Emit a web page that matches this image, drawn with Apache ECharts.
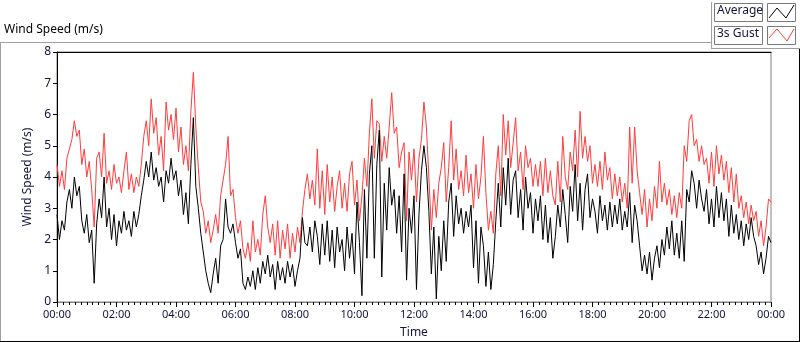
<!DOCTYPE html>
<html>
<head>
<meta charset="utf-8">
<script src="https://cdn.jsdelivr.net/npm/echarts/dist/echarts.min.js"></script>
<style>
  html, body { margin: 0; padding: 0; background: #fff; }
  #main { width: 800px; height: 342px; }
</style>
</head>
<body>
<div id="main"></div>
<script type="text/javascript">
    // 5-minute samples, 00:00 .. 24:00
    var stepMinutes = 5;

    var avgSpeed = [
        2.8,2.0,2.6,2.3,3.2,3.6,3.0,4.0,3.4,3.7,
        2.6,2.2,2.8,1.9,2.3,0.6,2.5,3.3,2.7,4.0,
        2.4,3.0,2.0,2.8,1.8,2.6,2.2,2.9,2.3,2.6,
        2.1,2.9,2.4,2.8,3.4,3.9,4.5,4.0,4.8,3.9,
        4.3,3.7,4.0,3.2,4.2,3.8,4.6,3.9,4.2,3.4,
        3.9,2.8,3.5,2.5,4.4,5.9,3.7,3.0,2.2,1.6,
        1.0,0.6,0.3,0.9,1.4,0.6,1.8,2.0,3.3,2.4,
        2.2,2.5,1.9,1.4,1.7,0.6,0.4,0.8,0.5,1.0,
        0.4,1.1,0.6,1.3,0.9,1.5,0.8,1.2,0.4,1.3,
        0.7,1.1,0.6,1.3,0.8,1.2,0.5,1.0,1.4,2.7,
        1.9,1.8,2.4,1.6,2.6,2.1,1.2,2.5,1.5,2.6,
        1.3,2.3,1.1,2.4,1.6,2.0,1.0,2.4,1.4,2.2,
        0.9,3.2,1.9,0.2,3.6,1.4,4.1,5.0,1.4,4.4,
        5.5,0.8,3.8,2.3,4.3,3.1,3.6,2.2,3.4,1.6,
        4.1,0.7,3.0,2.2,3.4,0.4,2.8,4.2,5.0,4.3,
        2.9,0.9,2.4,0.1,2.1,1.0,2.6,1.3,3.2,3.8,
        2.1,3.4,2.5,3.0,2.2,2.9,2.4,3.1,1.1,2.6,
        0.6,2.4,1.8,0.5,1.6,0.4,1.2,2.6,3.8,2.4,
        4.3,3.1,4.6,2.8,3.9,4.2,2.7,3.6,2.3,4.0,
        3.0,3.5,2.2,3.3,2.6,3.4,2.0,3.1,1.9,2.7,
        1.4,2.1,3.1,2.4,3.6,2.8,1.9,3.7,2.9,4.4,
        2.6,3.8,2.3,3.6,4.1,2.7,3.3,2.9,2.2,3.4,
        2.6,3.1,2.3,3.2,2.4,3.1,2.5,3.3,2.3,2.9,
        2.4,3.5,1.9,3.1,2.6,1.8,1.0,1.5,0.9,1.6,
        0.7,1.4,1.8,1.1,2.0,1.5,2.4,1.7,2.6,1.5,
        2.2,1.4,2.6,1.3,3.6,3.2,4.2,3.8,3.0,3.9,
        3.3,2.9,3.6,2.5,3.3,2.4,3.7,2.7,3.5,2.6,
        3.3,2.1,3.1,2.2,2.8,2.0,2.6,1.8,2.5,2.0,
        2.7,2.1,1.8,1.2,1.6,0.9,1.4,2.1,1.9
    ];

    var gustSpeed = [
        4.4,3.7,4.2,3.6,4.6,4.9,5.2,5.8,5.3,5.5,
        4.4,4.9,4.0,4.5,3.6,2.4,4.6,4.8,4.0,5.4,
        3.8,4.2,3.6,4.4,3.8,4.0,3.5,4.2,4.8,3.6,
        4.1,3.5,4.0,3.7,4.4,5.3,5.8,5.0,6.5,5.4,
        5.9,4.7,5.3,4.2,6.4,5.5,6.0,5.2,6.2,4.8,
        5.6,4.4,5.0,4.2,6.1,7.35,5.6,4.3,3.2,2.9,
        2.2,2.6,1.9,2.3,2.8,2.2,3.4,3.9,4.4,5.3,
        3.4,3.6,2.7,2.2,2.6,1.7,1.4,1.9,1.3,2.6,
        1.6,2.0,1.5,2.8,3.4,2.4,1.9,2.5,1.5,2.6,
        1.4,2.3,1.7,2.5,1.4,2.2,1.6,2.4,1.9,2.9,
        3.6,4.1,3.3,3.9,3.1,4.9,3.0,4.2,2.8,4.4,
        3.2,4.0,2.9,3.7,4.2,3.0,3.8,2.9,4.1,4.5,
        3.1,3.9,2.6,3.4,4.6,3.7,5.4,6.5,4.6,5.8,
        5.7,4.5,5.3,4.6,5.6,6.7,5.4,5.6,4.3,4.8,
        5.1,2.6,4.8,3.9,4.9,3.2,4.6,5.2,6.4,5.6,
        4.0,2.3,3.6,2.7,3.8,4.3,5.1,3.2,4.3,5.8,
        3.9,4.9,3.6,4.2,3.4,4.7,3.5,4.1,3.0,4.4,
        3.3,4.0,5.3,3.5,2.3,2.9,2.2,4.1,5.0,3.4,
        6.0,4.7,5.8,4.3,5.1,5.9,4.2,4.8,3.6,5.0,
        4.3,4.6,3.7,4.4,3.7,4.5,3.4,4.6,3.5,4.2,
        3.4,3.1,4.5,3.2,5.3,4.0,3.6,4.8,4.2,5.5,
        4.0,6.1,4.6,5.3,4.5,5.0,3.8,4.4,3.7,4.5,
        3.6,4.8,3.9,4.3,3.3,4.1,3.4,4.0,3.2,3.8,
        3.0,5.6,3.8,5.6,4.2,3.5,2.8,3.6,2.4,3.3,
        2.6,3.7,3.0,4.5,3.2,3.8,3.1,3.6,2.8,3.4,
        2.7,3.5,3.0,5.0,4.5,5.8,6.0,5.0,5.2,4.5,
        5.0,4.4,4.6,3.8,4.8,3.7,5.0,4.1,4.7,3.9,
        4.5,3.5,4.3,3.2,4.1,3.0,3.4,2.7,3.2,2.5,
        3.1,2.6,2.9,2.1,2.6,1.8,2.4,3.3,3.2
    ];

    var timeLabels = ['00:00','02:00','04:00','06:00','08:00','10:00','12:00',
                      '14:00','16:00','18:00','20:00','22:00','00:00'];

    var seriesNames = ['Average', '3s Gust'];

    var textColor = '#14143c';
    var fontFamily = '"Noto Sans", "DejaVu Sans", sans-serif';

    var toPairs = function (arr) {
        return arr.map(function (v, i) { return [i * stepMinutes, v]; });
    };

    var myChart = echarts.init(document.getElementById('main'), null, { renderer: 'canvas' });

    // 图例的小框
    var legendBox = function (y, name, color, pts) {
        return [
            { type: 'rect', shape: { x: 714.5, y: y + 0.5, width: 48, height: 18 },
              style: { fill: '#fff', stroke: '#7a7a7a', lineWidth: 1 } },
            { type: 'text', left: 717, top: y + 2,
              style: { text: name, fill: textColor, fontSize: 12, fontFamily: fontFamily } },
            { type: 'rect', shape: { x: 767.5, y: y + 0.5, width: 28, height: 18 },
              style: { fill: '#fff', stroke: '#7a7a7a', lineWidth: 1 } },
            { type: 'polyline', shape: { points: pts },
              style: { stroke: color, lineWidth: 1, fill: null } }
        ];
    };

    var graphics = [
        // outer frame
        { type: 'line', shape: { x1: 0, y1: 42.5, x2: 712, y2: 42.5 }, style: { stroke: '#a0a0a0', lineWidth: 1 } },
        { type: 'line', shape: { x1: 0.5, y1: 42, x2: 0.5, y2: 342 }, style: { stroke: '#a0a0a0', lineWidth: 1 } },
        { type: 'line', shape: { x1: 0, y1: 341.5, x2: 800, y2: 341.5 }, style: { stroke: '#000', lineWidth: 1 } },
        { type: 'line', shape: { x1: 799.5, y1: 49, x2: 799.5, y2: 342 }, style: { stroke: '#000', lineWidth: 1 } },
        // legend panel edge
        { type: 'line', shape: { x1: 711.5, y1: 2, x2: 711.5, y2: 49 }, style: { stroke: '#a0a0a0', lineWidth: 1 } },
        { type: 'line', shape: { x1: 711, y1: 48.5, x2: 800, y2: 48.5 }, style: { stroke: '#a0a0a0', lineWidth: 1 } },
        // chart caption
        { type: 'text', left: 4, top: 24,
          style: { text: 'Wind Speed (m/s)', fill: '#000', fontSize: 12, fontFamily: fontFamily } }
    ].concat(
        legendBox(3, seriesNames[0], '#000', [[769, 18], [777, 8], [786, 18], [794, 5]]),
        legendBox(26, seriesNames[1], '#ff3c3c', [[769, 38], [777, 29], [787, 41], [794, 29]])
    );

    var option = {
        animation: false,
        backgroundColor: '#fff',
        grid: {
            left: 57, right: 29, top: 52, bottom: 40,
            containLabel: false, outerBoundsMode: 'none',
            show: true, borderColor: '#808080', borderWidth: 1, backgroundColor: '#fff'
        },
        xAxis: [{
            type: 'value',
            min: 0, max: 1440, interval: 120,
            axisLine: { show: true, lineStyle: { color: '#808080' } },
            axisTick: { show: true, length: 5, lineStyle: { color: '#000' } },
            minorTick: { show: true, splitNumber: 10, length: 3, lineStyle: { color: '#000' } },
            splitLine: { show: false },
            axisLabel: {
                margin: 7, color: textColor, fontSize: 11, fontFamily: fontFamily,
                formatter: function (val) { return timeLabels[Math.round(val / 120)]; }
            },
            name: 'Time', nameLocation: 'middle', nameGap: 25,
            nameTextStyle: { color: textColor, fontSize: 12, fontFamily: fontFamily }
        }, {
            type: 'value', position: 'top',
            min: 0, max: 1440,
            axisLine: { show: true, lineStyle: { color: '#000' } },
            axisTick: { show: false }, axisLabel: { show: false }, splitLine: { show: false }
        }],
        yAxis: {
            type: 'value',
            min: 0, max: 8, interval: 1,
            axisLine: { show: true, lineStyle: { color: '#000' } },
            axisTick: { show: true, length: 4, lineStyle: { color: '#000' } },
            splitLine: { show: false },
            axisLabel: { margin: 6, color: textColor, fontSize: 12, fontFamily: fontFamily },
            name: 'Wind Speed (m/s)', nameLocation: 'middle', nameGap: 18, nameRotate: 90,
            nameTextStyle: { color: textColor, fontSize: 12, fontFamily: fontFamily }
        },
        series: [{
            name: seriesNames[1],
            type: 'line',
            showSymbol: false,
            lineStyle: { color: '#ff3c3c', width: 1 },
            itemStyle: { color: '#ff3c3c' },
            data: toPairs(gustSpeed)
        }, {
            name: seriesNames[0],
            type: 'line',
            showSymbol: false,
            lineStyle: { color: '#000', width: 1 },
            itemStyle: { color: '#000' },
            data: toPairs(avgSpeed)
        }],
        graphic: graphics
    };
    myChart.setOption(option, true);
</script>
</body>
</html>
